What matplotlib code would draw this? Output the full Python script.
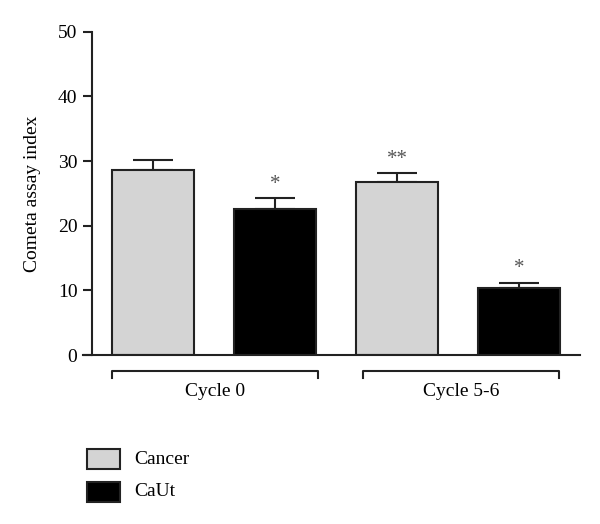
import matplotlib
matplotlib.use("Agg")
import matplotlib.pyplot as plt
from matplotlib.patches import Rectangle
from matplotlib.transforms import blended_transform_factory

plt.rcParams['font.family'] = ['Liberation Serif', 'DejaVu Serif']

groups = ["Cycle 0", "Cycle 5-6"]
series = ["Cancer", "CaUt"]
cancer = [28.6, 26.8]
caut = [22.6, 10.3]
cancer_err = [1.5, 1.3]
caut_err = [1.7, 0.9]
cancer_sig = ["", "**"]
caut_sig = ["*", "*"]
yticks = [0, 10, 20, 30, 40, 50]

colors = {"Cancer": "#d4d4d4", "CaUt": "#000000"}
edge = "#222222"

fig = plt.figure(figsize=(6.0, 5.24), dpi=100)
ax = fig.add_axes([0.1533, 0.3225, 0.8134, 0.617])

xs_c = [1, 3]
xs_u = [2, 4]
w = 0.667
ax.bar(xs_c, cancer, width=w, color=colors["Cancer"], edgecolor=edge, linewidth=1.5, zorder=2)
ax.bar(xs_u, caut, width=w, color=colors["CaUt"], edgecolor=edge, linewidth=1.5, zorder=2)
ax.errorbar(xs_c, cancer, yerr=[[0, 0], cancer_err], fmt='none', ecolor=edge,
            elinewidth=1.5, capsize=14.4, capthick=1.5, zorder=1)
ax.errorbar(xs_u, caut, yerr=[[0, 0], caut_err], fmt='none', ecolor=edge,
            elinewidth=1.5, capsize=14.4, capthick=1.5, zorder=1)

for x, v, e, s in list(zip(xs_c, cancer, cancer_err, cancer_sig)) + list(zip(xs_u, caut, caut_err, caut_sig)):
    if s:
        ax.annotate(s, (x, v + e), xytext=(0, 3), textcoords='offset points',
                    ha='center', va='bottom', fontsize=15, color='#555555')

ax.set_xlim(0.5, 4.5)
ax.set_ylim(0, 50)
ax.set_yticks(yticks)
ax.set_yticklabels([str(t) for t in yticks], fontsize=14)
ax.set_xticks([])
for sp in ['top', 'right', 'bottom']:
    ax.spines[sp].set_visible(False)
ax.spines['left'].set_linewidth(1.5)
ax.spines['left'].set_color(edge)
ax.tick_params(axis='y', length=6.5, width=1.5, color=edge, pad=4)
ax.set_ylabel("Cometa assay index", fontsize=14, labelpad=12)

# bottom axis line extended left past the spine
ax.plot([-0.018, 1.0], [0, 0], transform=ax.transAxes, color=edge, lw=1.5, clip_on=False, zorder=3)

# group brackets
bt = blended_transform_factory(ax.transData, fig.transFigure)
yb = 1 - 370.7 / 524
ytick = 1 - 378 / 524
for (x0, x1), g in zip([(0.66, 2.35), (2.725, 4.325)], groups):
    ax.plot([x0, x0, x1, x1], [ytick, yb, yb, ytick], transform=bt, color=edge, lw=1.5, clip_on=False)
    ax.text((x0 + x1) / 2, 1 - 391 / 524, g, transform=bt, ha='center', va='center', fontsize=14)

# legend
for i, s in enumerate(series):
    yc = 1 - (459 if i == 0 else 492) / 524
    fig.patches.append(Rectangle((86.7 / 600, yc - 10 / 524), 33.3 / 600, 20 / 524,
                                 transform=fig.transFigure, facecolor=colors[s],
                                 edgecolor=edge, linewidth=1.5))
    fig.text(134 / 600, yc, s, ha='left', va='center', fontsize=14)

fig.savefig("out.png", dpi=100)
